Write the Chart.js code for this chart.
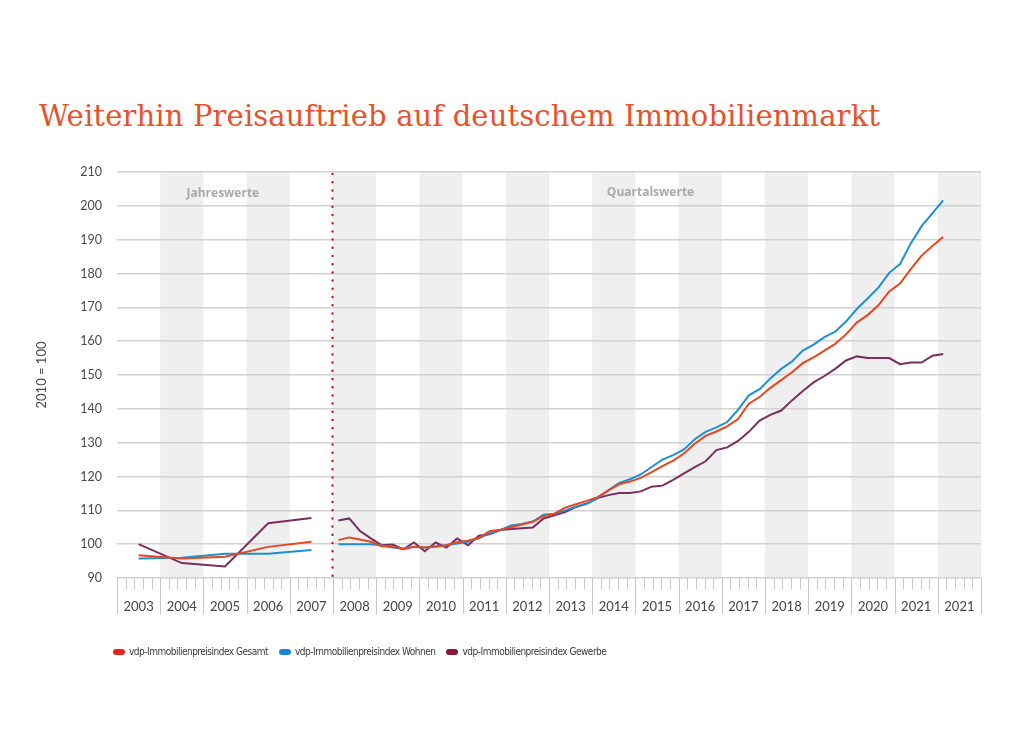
<!DOCTYPE html>
<html lang="de">
<head>
<meta charset="utf-8">
<title>vdp-Immobilienpreisindex</title>
<script src="https://cdn.jsdelivr.net/npm/chart.js@4/dist/chart.umd.min.js"></script>
<style>
    html, body { margin: 0; padding: 0; background: #fff; }
    body { width: 1024px; height: 735px; position: relative; overflow: hidden; }
    #chart { position: absolute; left: 0; top: 0; }
    #title {
        position: absolute; left: 39px; top: 99px; margin: 0;
        font: normal 29px/34px "DejaVu Serif", serif; color: #e4532c;
        letter-spacing: 0.15px; white-space: nowrap;
    }
    #legend {
        position: absolute; left: 113px; top: 644px;
        display: flex; gap: 11px;
        font: 10px/16px "DejaVu Sans Condensed", sans-serif; letter-spacing: -0.5px; color: #3a3a3a;
    }
    #legend .item { display: flex; align-items: center; }
    #legend i { display: inline-block; width: 12px; height: 6px; border-radius: 3px; margin-right: 4px; }
</style>
</head>
<body>
<h1 id="title">Weiterhin Preisauftrieb auf deutschem Immobilienmarkt</h1>
<canvas id="chart" width="1024" height="735"></canvas>
<div id="legend"></div>
<script>
// Jahreswerte 2003-2007, danach Quartalswerte ab 2008 Q1
const ANNUAL_YEARS = [2003, 2004, 2005, 2006, 2007];
const QUARTER_START_YEAR = 2008;
const X_LABELS = ['2003', '2004', '2005', '2006', '2007', '2008', '2009', '2010', '2011', '2012',
    '2013', '2014', '2015', '2016', '2017', '2018', '2019', '2020', '2021', '2021'];

const SERIES_NAMES = ['vdp-Immobilienpreisindex Gesamt', 'vdp-Immobilienpreisindex Wohnen', 'vdp-Immobilienpreisindex Gewerbe'];
const LINE_COLORS = ['#e8461e', '#1d8fd5', '#7a2e5f'];
const LEGEND_COLORS = ['#e2261b', '#1a88d0', '#8a1538'];

const annualGesamt = [96.7, 95.8, 96.3, 99.2, 100.7];
const annualWohnen = [95.8, 96.0, 97.2, 97.2, 98.3];
const annualGewerbe = [100.0, 94.4, 93.4, 106.2, 107.7];

const quarterlyGesamt = [
    101.2, 102.0, 101.4, 100.7,  99.4,  99.2,  98.5,  99.2,  99.0,  99.2,
     99.7, 100.6, 101.0, 101.9, 103.8, 104.3, 105.0, 105.8, 106.6, 108.3,
    109.0, 110.8, 111.8, 112.8, 113.9, 115.9, 117.7, 118.5, 119.6, 121.3,
    123.1, 124.7, 126.8, 129.7, 132.0, 133.3, 134.8, 137.0, 141.5, 143.5,
    146.2, 148.5, 150.8, 153.5, 155.2, 157.2, 159.2, 162.0, 165.5, 167.7,
    170.6, 174.7, 177.0, 181.3, 185.3, 188.1, 190.8
];
const quarterlyWohnen = [
    100.0, 100.0, 100.0, 100.0,  99.7,  99.0,  98.7,  99.2,  99.0,  99.4,
     99.7, 100.2, 100.7, 101.7, 103.2, 104.2, 105.5, 106.0, 106.7, 108.7,
    109.0, 110.0, 111.1, 111.9, 113.6, 115.9, 118.1, 119.2, 120.6, 122.8,
    125.0, 126.3, 128.0, 131.0, 133.2, 134.5, 136.1, 139.7, 144.0, 145.8,
    149.0, 151.8, 154.0, 157.2, 159.0, 161.2, 162.8, 165.8, 169.5, 172.6,
    175.8, 180.2, 182.8, 188.9, 194.0, 197.8, 201.6
];
const quarterlyGewerbe = [
    107.0, 107.6, 103.9, 101.7,  99.7,  99.9,  98.5, 100.5,  97.9, 100.5,
     99.0, 101.7,  99.7, 102.5, 102.9, 104.2, 104.5, 104.7, 104.9, 107.6,
    108.5, 109.5, 111.0, 112.0, 113.6, 114.5, 115.1, 115.1, 115.6, 117.0,
    117.3, 119.0, 120.9, 122.8, 124.5, 127.8, 128.6, 130.5, 133.2, 136.5,
    138.2, 139.5, 142.5, 145.3, 147.8, 149.7, 151.8, 154.3, 155.5, 155.0,
    155.0, 155.0, 153.2, 153.7, 153.7, 155.7, 156.2
];

const FIRST_YEAR = ANNUAL_YEARS[0];

// x in Quartalen seit Anfang 2003: Jahreswerte in Spaltenmitte, Quartale in Quartalsmitte
function buildPoints(annual, quarterly) {
    const points = annual.map((v, i) => ({ x: (ANNUAL_YEARS[i] - FIRST_YEAR) * 4 + 2, y: v }));
    const qStart = (QUARTER_START_YEAR - FIRST_YEAR) * 4;
    points.push({ x: qStart, y: null });
    quarterly.forEach((v, k) => points.push({ x: qStart + k + 0.5, y: v }));
    return points;
}

const seriesData = [
    buildPoints(annualGesamt, quarterlyGesamt),
    buildPoints(annualWohnen, quarterlyWohnen),
    buildPoints(annualGewerbe, quarterlyGewerbe)
];

const X_MAX = X_LABELS.length * 4;
const SPLIT_X = (QUARTER_START_YEAR - FIRST_YEAR) * 4;

const decorPlugin = {
    id: 'decor',
    beforeDraw(chart) {
        const { ctx, chartArea, scales: { x } } = chart;
        ctx.save();
        ctx.fillStyle = '#efefef';
        for (let j = 1; j < X_LABELS.length; j += 2) {
            const x0 = x.getPixelForValue(j * 4);
            const x1 = x.getPixelForValue(j * 4 + 4);
            ctx.fillRect(x0, chartArea.top, x1 - x0, chartArea.bottom - chartArea.top);
        }
        ctx.restore();
    },
    beforeDatasetsDraw(chart) {
        const { ctx, chartArea, scales: { x } } = chart;
        ctx.save();
        // Trennlinie Jahres-/Quartalswerte
        const sx = Math.round(x.getPixelForValue(SPLIT_X)) - 0.5;
        ctx.strokeStyle = '#b8281c';
        ctx.lineWidth = 2.5;
        ctx.lineCap = 'round';
        ctx.setLineDash([0, 8.2]);
        ctx.beginPath();
        ctx.moveTo(sx, chartArea.top + 2);
        ctx.lineTo(sx, chartArea.bottom);
        ctx.stroke();
        ctx.setLineDash([]);

        ctx.fillStyle = '#a9a9a9';
        ctx.font = 'bold 12px "Open Sans", sans-serif';
        ctx.textAlign = 'center';
        ctx.textBaseline = 'middle';
        ctx.fillText('Jahreswerte', x.getPixelForValue(SPLIT_X / 2 - 0.2), chartArea.top + 22);
        ctx.fillText('Quartalswerte', x.getPixelForValue(49.4), chartArea.top + 21);

        // Jahrestrenner und Teilstriche unter der Achse
        ctx.strokeStyle = '#c9c9c9';
        ctx.lineWidth = 1;
        ctx.beginPath();
        for (let j = 0; j <= X_LABELS.length; j++) {
            const px = Math.round(x.getPixelForValue(j * 4)) + 0.5;
            ctx.moveTo(px, chartArea.bottom);
            ctx.lineTo(px, chartArea.bottom + 36);
            if (j < X_LABELS.length) {
                for (let m = 1; m <= 4; m++) {
                    const mx = Math.round(x.getPixelForValue(j * 4 + m * 0.8)) + 0.5;
                    ctx.moveTo(mx, chartArea.bottom);
                    ctx.lineTo(mx, chartArea.bottom + 11);
                }
            }
        }
        ctx.stroke();
        ctx.restore();
    }
};

const chart = new Chart(document.getElementById('chart'), {
    type: 'line',
    data: {
        datasets: seriesData.map((points, i) => ({
            label: SERIES_NAMES[i],
            data: points,
            borderColor: LINE_COLORS[i],
            backgroundColor: LINE_COLORS[i],
            borderWidth: 2,
            pointRadius: 0,
            tension: 0,
            spanGaps: false
        }))
    },
    options: {
        responsive: false,
        animation: false,
        layout: { padding: { left: 0, right: 43, top: 172, bottom: 117 } },
        plugins: {
            legend: { display: false },
            tooltip: { enabled: false }
        },
        scales: {
            x: {
                type: 'linear',
                min: 0,
                max: X_MAX,
                grid: { display: false, drawTicks: false },
                border: { display: false },
                afterBuildTicks: scale => {
                    scale.ticks = X_LABELS.map((_, i) => ({ value: i * 4 + 2 }));
                },
                ticks: {
                    autoSkip: false,
                    maxRotation: 0,
                    padding: 21,
                    color: '#444',
                    font: { family: 'Lato, sans-serif', size: 13 },
                    callback: value => X_LABELS[Math.round((value - 2) / 4)]
                },
                afterFit: scale => { scale.height = 40; }
            },
            y: {
                min: 90,
                max: 210,
                grid: { color: '#d2d2d2', lineWidth: 1.5, drawTicks: false },
                border: { display: false },
                ticks: {
                    stepSize: 10,
                    padding: 15,
                    color: '#4a4a4a',
                    font: { family: 'Lato, sans-serif', size: 12.5 }
                },
                title: {
                    display: true,
                    text: '2010 = 100',
                    color: '#4a4a4a',
                    font: { family: 'Lato, sans-serif', size: 13 },
                    padding: { top: 34, bottom: 0 }
                },
                afterFit: scale => { scale.width = 117; }
            }
        }
    },
    plugins: [decorPlugin]
});

const legendEl = document.getElementById('legend');
SERIES_NAMES.forEach((name, i) => {
    const item = document.createElement('span');
    item.className = 'item';
    const swatch = document.createElement('i');
    swatch.style.background = LEGEND_COLORS[i];
    item.appendChild(swatch);
    item.appendChild(document.createTextNode(name));
    legendEl.appendChild(item);
});
</script>
</body>
</html>
